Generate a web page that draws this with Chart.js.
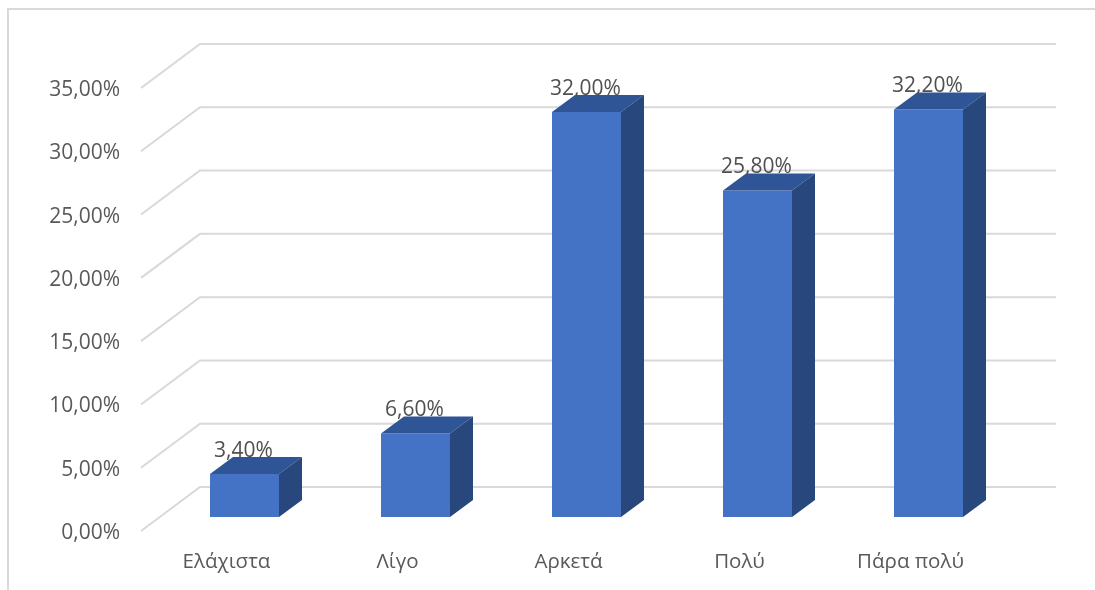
<!DOCTYPE html>
<html><head><meta charset="utf-8">
<style>html,body{margin:0;padding:0;background:#fff}canvas{display:block}</style>
<script src="https://cdn.jsdelivr.net/npm/chart.js@4"></script></head>
<body><canvas id="c" width="1095" height="590"></canvas>
<script>
const categories = ["Ελάχιστα","Λίγο","Αρκετά","Πολύ","Πάρα πολύ"];
const values = [3.4,6.6,32.0,25.8,32.2];
const FONT = "'Open Sans'";
const fmt = v => v.toFixed(2).replace('.',',') + '%';
const DEPTH_X = 23, DEPTH_Y = 17;

const scene3d = {
  id:'scene3d',
  beforeDraw(chart){
    const c = chart.ctx;
    c.save();
    c.fillStyle='#fff'; c.fillRect(0,0,chart.width,chart.height);
    c.strokeStyle='#d9d9d9'; c.lineWidth=2;
    c.beginPath(); c.moveTo(8,590); c.lineTo(8,9); c.lineTo(1095,9); c.stroke();
    c.restore();
  },
  beforeDatasetsDraw(chart){
    const c = chart.ctx, y = chart.scales.y;
    c.save();
    c.strokeStyle='#d9d9d9'; c.lineWidth=2; c.lineJoin='miter';
    y.ticks.forEach(t=>{
      const p = y.getPixelForValue(t.value);
      c.beginPath();
      c.moveTo(141,p+14); c.lineTo(200,p-30); c.lineTo(1056,p-30);
      c.stroke();
    });
    c.restore();
  },
  afterDatasetsDraw(chart){
    const c = chart.ctx, meta = chart.getDatasetMeta(0);
    c.save();
    meta.data.forEach((b,i)=>{
      const {x,y,base,width} = b.getProps(['x','y','base','width'],true);
      const l = x-width/2, r = x+width/2;
      c.fillStyle='#2f5597';
      c.beginPath(); c.moveTo(l,y); c.lineTo(l+DEPTH_X,y-DEPTH_Y); c.lineTo(r+DEPTH_X,y-DEPTH_Y); c.lineTo(r,y); c.closePath(); c.fill();
      c.fillStyle='#27477d';
      c.beginPath(); c.moveTo(r,y); c.lineTo(r+DEPTH_X,y-DEPTH_Y); c.lineTo(r+DEPTH_X,base-DEPTH_Y); c.lineTo(r,base); c.closePath(); c.fill();
    });
    c.fillStyle='#505050'; c.font='21px '+FONT; c.textAlign='center'; c.textBaseline='middle';
    meta.data.forEach((b,i)=>{
      const {x,y} = b.getProps(['x','y'],true);
      c.fillText(fmt(values[i]), x-1, y-23);
    });
    c.restore();
  }
};

new Chart(document.getElementById('c'),{
  type:'bar',
  data:{labels:categories,datasets:[{data:values,backgroundColor:'#4472c4',borderWidth:0,barPercentage:1,categoryPercentage:0.4035}]},
  plugins:[scene3d],
  options:{
    responsive:false,animation:false,
    layout:{padding:{left:0,right:81,top:74,bottom:0}},
    plugins:{legend:{display:false},tooltip:{enabled:false},title:{display:false}},
    scales:{
      x:{
        grid:{display:false,drawTicks:false},border:{display:false},
        afterFit(s){s.height=73;},
        ticks:{color:'#595959',font:{family:FONT,size:20.5},labelOffset:-18,padding:33,maxRotation:0,autoSkip:false}
      },
      y:{
        min:0,max:35,
        afterFit(s){s.width=159;s.paddingTop=0;s.paddingBottom=0;},
        grid:{display:false,drawTicks:false},border:{display:false},
        ticks:{stepSize:5,color:'#595959',font:{family:FONT,size:21},labelOffset:16,padding:39,callback:v=>fmt(v)}
      }
    }
  }
});
</script></body></html>
